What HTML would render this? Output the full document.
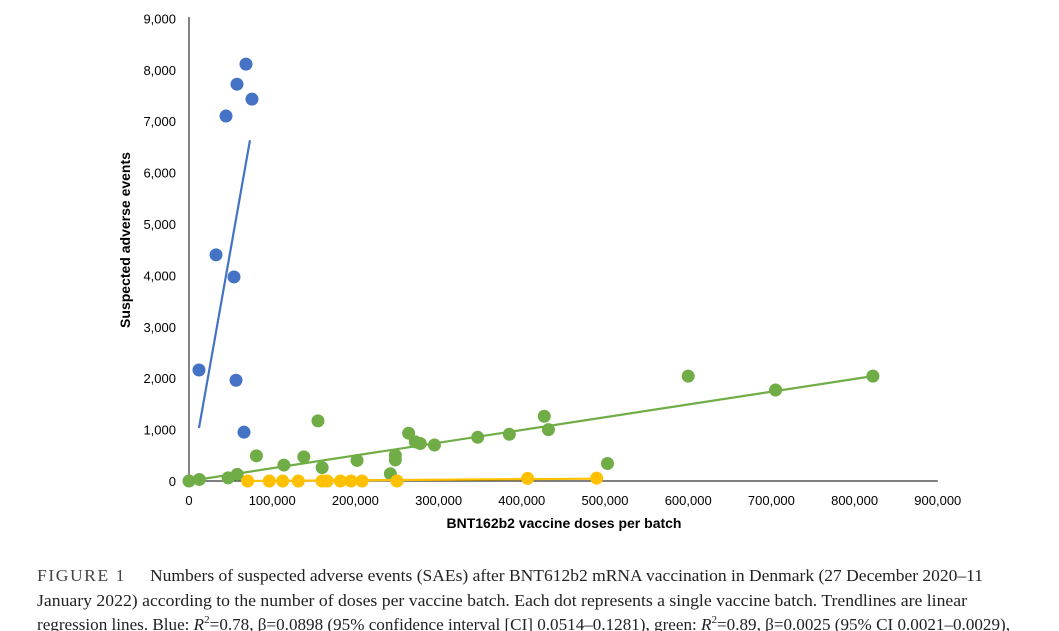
<!DOCTYPE html>
<html><head><meta charset="utf-8"><style>
body{margin:0;background:#fff;}
svg{display:block;font-family:"Liberation Sans",sans-serif;}
</style></head><body>
<svg id="chart" width="1059" height="631">
<g id="axes"></g><g id="marks"></g>
<text x="130" y="240" transform="rotate(-90 130 240)" text-anchor="middle" font-size="14" font-weight="bold" fill="#000">Suspected adverse events</text>
<text x="564" y="528" text-anchor="middle" font-size="14" font-weight="bold" fill="#000">BNT162b2 vaccine doses per batch</text>
<g font-family="Liberation Serif, serif" font-size="17" fill="#222">
<text x="37" y="581" fill="#444" letter-spacing="1.5" textLength="89" lengthAdjust="spacingAndGlyphs">FIGURE 1</text>
<text x="150" y="581" textLength="833" lengthAdjust="spacingAndGlyphs">Numbers of suspected adverse events (SAEs) after BNT612b2 mRNA vaccination in Denmark (27 December 2020–11</text>
<text x="37" y="606" textLength="930" lengthAdjust="spacingAndGlyphs">January 2022) according to the number of doses per vaccine batch. Each dot represents a single vaccine batch. Trendlines are linear</text>
<text x="37" y="630" textLength="973" lengthAdjust="spacingAndGlyphs">regression lines. Blue: <tspan font-style="italic">R</tspan><tspan font-size="11" dy="-7">2</tspan><tspan dy="7">=0.78, β=0.0898 (95% confidence interval [CI] 0.0514–0.1281), green: </tspan><tspan font-style="italic">R</tspan><tspan font-size="11" dy="-7">2</tspan><tspan dy="7">=0.89, β=0.0025 (95% CI 0.0021–0.0029),</tspan></text>
</g>
</svg>
<script>
const xTicks=[0,100000,200000,300000,400000,500000,600000,700000,800000,900000];
const yTicks=[0,1000,2000,3000,4000,5000,6000,7000,8000,9000];
const blueX=[12000,68500,57700,75700,44500,32500,54100,56500,66100];
const blueY=[2160,8110,7720,7430,7100,4400,3970,1960,950];
const greenX=[0,12400,47000,58000,81000,114000,138000,155000,160000,202000,242000,248000,248000,264000,272000,278000,295000,347000,385000,427000,432000,503000,600000,705000,822000];
const greenY=[0,30,60,130,490,310,470,1170,260,400,140,500,410,930,760,730,700,850,910,1260,1000,340,2040,1770,2040];
const yellowX=[70500,96500,112600,131400,160000,166000,182000,194700,208000,250000,407000,490000];
const yellowY=[0,0,0,0,0,0,0,0,0,0,50,55];
const blueTrendX=[12000,73300], blueTrendY=[1030,6630];
const greenTrendX=[0,822000], greenTrendY=[0,2040];
const yellowTrendX=[70500,490000], yellowTrendY=[0,45];
const X=v=>189+v/100000*83.2, Y=v=>481-v/1000*51.4;
const NS="http://www.w3.org/2000/svg";
const axes=document.getElementById('axes'), marks=document.getElementById('marks');
function mk(tag,attrs,parent){const e=document.createElementNS(NS,tag);for(const k in attrs)e.setAttribute(k,attrs[k]);parent.appendChild(e);return e;}
const fmt=v=>v.toLocaleString('en-US');
let l=mk('line',{x1:X(0),x2:X(900000),y1:Y(0),y2:Y(0),stroke:'#333','stroke-width':1.2},axes);


l=mk('line',{x1:X(0),x2:X(0),y1:Y(0),y2:17,stroke:'#333','stroke-width':1.2},axes);


xTicks.forEach(v=>{const t=mk('text',{x:X(v),y:505,'text-anchor':'middle','font-size':13,fill:'#000'},axes);t.textContent=fmt(v);

});
yTicks.forEach(v=>{const t=mk('text',{x:176,y:Y(v)+5,'text-anchor':'end','font-size':13,fill:'#000'},axes);t.textContent=fmt(v);

});
function trend(xs,ys,c,name){const e=mk('line',{x1:X(xs[0]),y1:Y(ys[0]),x2:X(xs[1]),y2:Y(ys[1]),stroke:c,'stroke-width':2.2},marks);

}
function dots(xs,ys,c,name){xs.forEach((x,i)=>{const e=mk('circle',{cx:X(x),cy:Y(ys[i]),r:6.5,fill:c},marks);

});}
dots(greenX,greenY,'#70AD47','green-batch-dot');
dots(yellowX,yellowY,'#FFC000','yellow-batch-dot');
dots(blueX,blueY,'#4472C4','blue-batch-dot');
trend(blueTrendX,blueTrendY,'#4472C4','blue-trendline');
trend(greenTrendX,greenTrendY,'#70AD47','green-trendline');
trend(yellowTrendX,yellowTrendY,'#FFC000','yellow-trendline');
</script>
</body></html>
